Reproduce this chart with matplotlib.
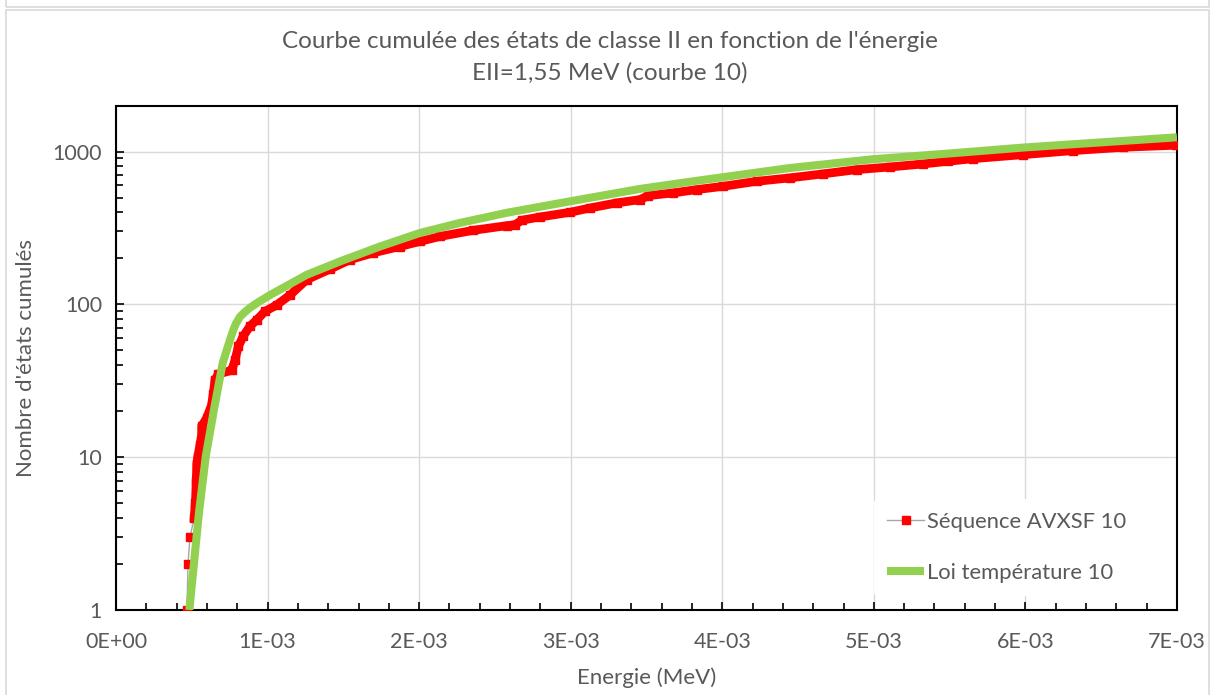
import matplotlib
matplotlib.use("Agg")
import matplotlib.pyplot as plt
from matplotlib.ticker import MultipleLocator, FuncFormatter, LogLocator, NullFormatter
from matplotlib.patches import Rectangle

plt.rcParams['font.family'] = ['Lato', 'DejaVu Sans']

# Séquence AVXSF 10 : énergie (MeV) et nombre cumulé d'états
seq_energie = [0.000468, 0.000475, 0.000488, 0.000516, 0.000523, 0.000528, 0.000529,
               0.000532, 0.000533, 0.000539, 0.000554, 0.000565, 0.000566, 0.000598,
               0.000631, 0.000642, 0.000653, 0.000675, 0.000763, 0.000785, 0.000807,
               0.000840, 0.000884, 0.000928, 0.000983, 0.001060, 0.001148, 0.001258,
               0.001412, 0.001544, 0.001695, 0.001873, 0.002005, 0.002137, 0.002357,
               0.002577, 0.002632, 0.002678, 0.002797, 0.002995, 0.003127, 0.003303,
               0.003456, 0.003511, 0.003676, 0.003830, 0.004006, 0.004226, 0.004446,
               0.004666, 0.004886, 0.005106, 0.005325, 0.005490, 0.005655, 0.005985,
               0.006315, 0.006645, 0.006992]
seq_cumul = [1, 2, 3, 4, 5, 6, 7,
             8, 9, 10, 12, 14, 16, 18,
             22, 26, 32, 35, 37, 43, 53,
             62, 72, 79, 90, 99, 115, 145,
             170, 196, 217, 239, 258, 278, 305,
             327, 332, 355, 373, 400, 427, 461,
             484, 514, 536, 563, 592, 638, 672,
             714, 761, 792, 829, 863, 898, 954,
             1014, 1066, 1100]

# Loi température 10
loi_energie = [0.000484, 0.000547, 0.000592, 0.000646, 0.000704, 0.000752, 0.000774,
               0.000792, 0.000818, 0.000850, 0.000884, 0.000950, 0.001016, 0.001082,
               0.001258, 0.001478, 0.001741, 0.002005, 0.002269, 0.002577, 0.002995,
               0.003456, 0.003806, 0.004446, 0.004993, 0.005488, 0.005983, 0.006972,
               0.007000]
loi_cumul = [1, 4.3, 10.1, 20.4, 41.3, 58.6, 68,
             75, 83, 89, 95, 105, 115, 125,
             156, 191, 239, 293, 341, 397, 472,
             569, 638, 780, 890, 969, 1061, 1233,
             1240]

x_ticks = [0, 0.001, 0.002, 0.003, 0.004, 0.005, 0.006, 0.007]
y_ticks = [1, 10, 100, 1000]

grey_txt = '#595959'

fig = plt.figure(figsize=(12.15, 6.95), dpi=100)
ax = fig.add_axes([116 / 1215, 1 - 610 / 695, (1177 - 116) / 1215, (610 - 105.5) / 695])

# cadres du graphique
fig.patches.append(Rectangle((6 / 1215, 1 - 7 / 695), 1203 / 1215, 0.05, transform=fig.transFigure,
                             fill=False, edgecolor='#d9d9d9', lw=1.2))
fig.patches.append(Rectangle((6 / 1215, -0.05), 1203 / 1215, 1 - 10 / 695 + 0.05, transform=fig.transFigure,
                             fill=False, edgecolor='#d9d9d9', lw=1.2))

# série mesurée : ligne grise, carrés rouges (bande dense au-dessus de quelques états)
ax.plot(seq_energie, seq_cumul, color='#a6a6a6', lw=1.0, zorder=2)
ax.plot(seq_energie[3:], seq_cumul[3:], color='red', lw=6.3, solid_joinstyle='miter', zorder=3)
ax.plot(seq_energie, seq_cumul, ls='none', marker='s', ms=5.5, mfc='red', mec='red', zorder=3)
ax.plot([], [], color='#a6a6a6', lw=1.0, marker='s', ms=5.5, mfc='red', mec='red',
        label='Séquence AVXSF 10')
ax.plot(loi_energie, loi_cumul, color='#92d050', lw=5.8, solid_capstyle='butt',
        solid_joinstyle='round', zorder=4, label='Loi température 10')

ax.set_yscale('log')
ax.set_xlim(0, 0.007)
ax.set_ylim(1, 2000)
ax.set_xticks(x_ticks)
ax.xaxis.set_minor_locator(MultipleLocator(0.0002))
ax.xaxis.set_major_formatter(FuncFormatter(lambda v, p: f"{v:.0E}"))
ax.set_yticks(y_ticks)
ax.yaxis.set_major_formatter(FuncFormatter(lambda v, p: f"{v:.0f}"))
ax.yaxis.set_minor_locator(LogLocator(base=10, subs=range(2, 10)))
ax.yaxis.set_minor_formatter(NullFormatter())

ax.tick_params(which='both', direction='in', color='black', width=1.2, labelsize=15.5,
               labelcolor=grey_txt)
ax.tick_params(which='major', length=6)
ax.tick_params(which='minor', length=5)
ax.tick_params(axis='x', pad=16)
ax.tick_params(axis='y', pad=10)
ax.grid(True, which='major', color='#d9d9d9', lw=1.0)
ax.set_axisbelow(True)
for s in ax.spines.values():
    s.set_linewidth(1.5)
    s.set_color('black')

ax.set_xlabel('Energie (MeV)', fontsize=16, color=grey_txt, labelpad=11)
ax.set_ylabel("Nombre d'états cumulés", fontsize=16, color=grey_txt, labelpad=12)

fig.text(610 / 1215, 1 - 42 / 695, "Courbe cumulée des états de classe II en fonction de l'énergie",
         ha='center', va='center', fontsize=17.5, color=grey_txt)
fig.text(610 / 1215, 1 - 73 / 695, "EII=1,55 MeV (courbe 10)",
         ha='center', va='center', fontsize=17.5, color=grey_txt)

leg = ax.legend(loc='upper left', bbox_to_anchor=(863 / 1215, 1 - 488 / 695),
                bbox_transform=fig.transFigure, frameon=True, fontsize=15.8,
                handlelength=1.7, handletextpad=0.1, labelspacing=1.4, borderpad=0.6)
leg.get_frame().set_facecolor('white')
leg.get_frame().set_edgecolor('none')
leg.get_frame().set_alpha(1)
for t in leg.get_texts():
    t.set_color(grey_txt)

fig.savefig('out.png', dpi=100)
